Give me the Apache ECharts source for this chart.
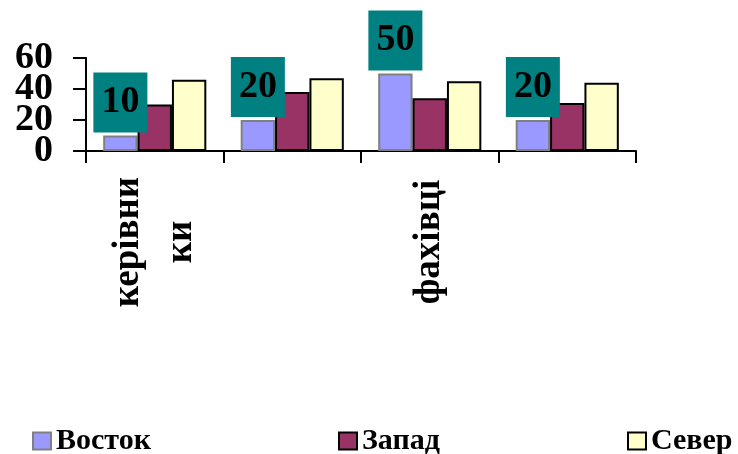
<!DOCTYPE html>
<html>
<head>
<meta charset="utf-8">
<script src="https://cdn.jsdelivr.net/npm/echarts@6/dist/echarts.min.js"></script>
<style>
html,body{margin:0;padding:0;background:#fff;}
#chart{width:738px;height:454px;}
</style>
</head>
<body>
<div id="chart"></div>
<script>
const categories = ['керівни\nки', '', 'фахівці', ''];
const vostok = [10, 20, 50, 20];
const zapad = [30, 38, 34, 31];
const sever = [46, 47, 45, 44];
const seriesNames = ['Восток', 'Запад', 'Север'];
const yTickValues = [0, 20, 40, 60];
// labels are split over two overlaid axes so none gets hidden for overlapping
const yLabelsA = [0, 40];
const yLabelsB = [20, 60];

const serif = '"Liberation Serif", "Times New Roman", serif';
const chart = echarts.init(document.getElementById('chart'), null, { renderer: 'canvas' });

function legendAt(name, left) {
  return {
    data: [name],
    left: left,
    top: 421,
    itemWidth: 18,
    itemHeight: 17,
    itemGap: 7,
    icon: 'rect',
    textStyle: { fontFamily: serif, fontWeight: 'bold', fontSize: 30, color: '#000' }
  };
}

function yAxisWith(labels, showLine, minLbl, maxLbl) {
  return {
    type: 'value',
    position: 'left',
    offset: 0,
    min: yTickValues[0],
    max: yTickValues[yTickValues.length - 1],
    interval: yTickValues[1] - yTickValues[0],
    axisLine: { show: showLine, lineStyle: { color: '#000', width: 2 } },
    axisTick: { show: true, length: 13, lineStyle: { color: '#000', width: 2 } },
    axisLabel: {
      margin: 33,
      showMinLabel: minLbl,
      showMaxLabel: maxLbl,
      formatter: function (v) { return labels.indexOf(v) >= 0 ? String(v) : ''; },
      fontFamily: serif, fontWeight: 'bold', fontSize: 38, color: '#000'
    },
    splitLine: { show: false }
  };
}

chart.setOption({
  animation: false,
  backgroundColor: '#fff',
  legend: [legendAt(seriesNames[0], 27), legendAt(seriesNames[1], 333), legendAt(seriesNames[2], 622)],
  grid: { left: 86, right: 102, top: 58, bottom: 303, containLabel: false },
  xAxis: {
    type: 'category',
    data: categories,
    axisLine: { lineStyle: { color: '#000', width: 2 } },
    axisTick: { show: true, length: 12, lineStyle: { color: '#000', width: 2 }, alignWithLabel: false },
    axisLabel: {
      interval: 0,
      rotate: 90,
      align: 'center',
      verticalAlign: 'middle',
      margin: 91,
      lineHeight: 53,
      fontFamily: serif,
      fontWeight: 'bold',
      fontSize: 37,
      color: '#000'
    },
    splitLine: { show: false }
  },
  yAxis: [
    yAxisWith(yLabelsA, true, true, null),
    yAxisWith(yLabelsB, false, false, true)
  ],
  series: [
    {
      name: seriesNames[0], type: 'bar', data: vostok, yAxisIndex: 0,
      barGap: '0%', barCategoryGap: '25%',
      itemStyle: { color: '#9999FF', borderColor: '#808080', borderWidth: 2 },
      label: {
        show: true, position: 'top', distance: 3,
        backgroundColor: '#008080', padding: [11, 8, 11, 8],
        fontFamily: serif, fontWeight: 'bold', fontSize: 38, color: '#000'
      }
    },
    {
      name: seriesNames[1], type: 'bar', data: zapad, yAxisIndex: 0,
      barGap: '0%', barCategoryGap: '25%',
      itemStyle: { color: '#993366', borderColor: '#000', borderWidth: 2 }
    },
    {
      name: seriesNames[2], type: 'bar', data: sever, yAxisIndex: 0,
      barGap: '0%', barCategoryGap: '25%',
      itemStyle: { color: '#FFFFCC', borderColor: '#000', borderWidth: 2 }
    }
  ]
});
</script>
</body>
</html>
